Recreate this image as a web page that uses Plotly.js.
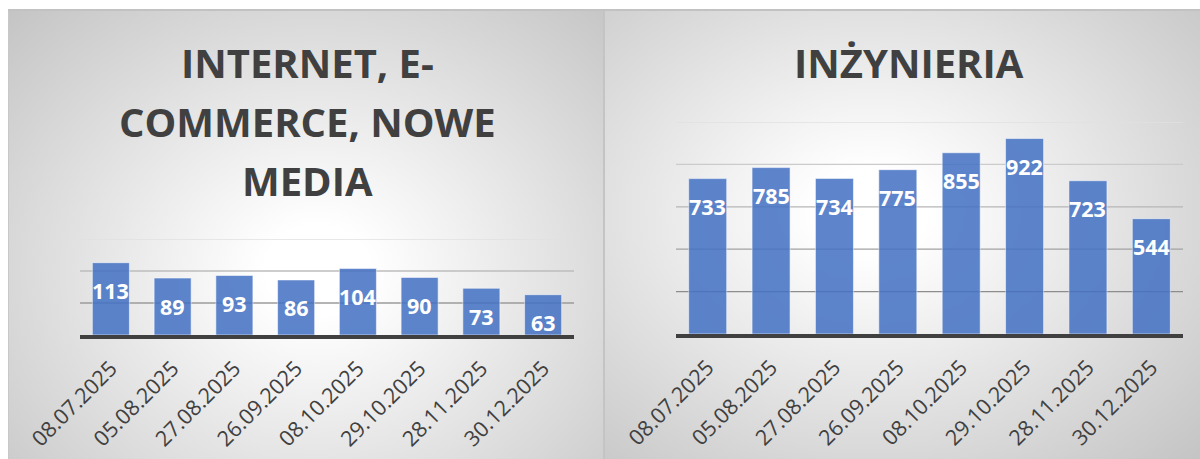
<!DOCTYPE html>
<html>
<head>
<meta charset="utf-8">
<script src="https://cdn.plot.ly/plotly-3.0.1.min.js"></script>
<style>
  html, body { margin: 0; padding: 0; background: #ffffff; }
  body { width: 1200px; height: 459px; position: relative; overflow: hidden; }
  .panel { position: absolute; top: 9px; height: 450px; }
  #left { left: 8px; width: 595px;
    background: radial-gradient(ellipse farthest-corner at 52% 58%, #ffffff 0%, #ffffff 12%, #c4c4c4 100%);
    box-shadow: inset 0 2px 0 #c2c2c2, inset 1px 0 0 #c8c8c8; }
  #right { left: 603px; width: 597px;
    background: radial-gradient(ellipse farthest-corner at 45% 45%, #ffffff 0%, #ffffff 12%, #c4c4c4 100%);
    box-shadow: inset 0 2px 0 #c2c2c2, inset 2px 0 0 #c4c4c4; }
  .chart { position: absolute; left: 0; top: 0; width: 100%; height: 100%; }
</style>
</head>
<body>
<div id="left" class="panel"><div id="chartL" class="chart"></div></div>
<div id="right" class="panel"><div id="chartR" class="chart"></div></div>
<script>
// ---- data ----
const dates = ["08.07.2025","05.08.2025","27.08.2025","26.09.2025","08.10.2025","29.10.2025","28.11.2025","30.12.2025"];
const internetValues = [113, 89, 93, 86, 104, 90, 73, 63];
const inzynieriaValues = [733, 785, 734, 775, 855, 922, 723, 544];
const internetTitle = ["INTERNET, E-", "COMMERCE, NOWE", "MEDIA"];
const inzynieriaTitle = ["INŻYNIERIA"];
const internetTicks = [0, 50, 100, 150];
const inzynieriaTicks = [0, 200, 400, 600, 800, 1000];

const FONT = "'Open Sans', 'DejaVu Sans', sans-serif";

function build(div, opts) {
  const {cats, vals, ticks, titleLines, w, h, m, titleX, titleCenters} = opts;
  const ymax = ticks[ticks.length - 1];
  const plotH = h - m.t - m.b;
  // helper: container pixel y -> paper y
  const py = (ypx) => (h - m.b - ypx) / plotH;

  const trace = {
    type: 'bar', x: cats, y: vals,
    marker: { color: '#4472C4', opacity: 0.86, line: { color: 'rgba(255,255,255,0.55)', width: 1 } },
    hoverinfo: 'x+y'
  };

  const shapes = ticks.filter(t => t > 0).map(t => {
    const g = Math.round(120 + 104 * (t / ymax));
    return { type: 'line', xref: 'paper', x0: 0, x1: 1, yref: 'y', y0: t, y1: t,
      line: { color: `rgb(${g},${g},${g})`, width: 1.3 }, layer: 'below' };
  });

  const annotations = vals.map((v, i) => ({
    x: cats[i], y: v, xref: 'x', yref: 'y', text: String(v), showarrow: false,
    yanchor: 'middle', yshift: -28,
    font: { family: FONT, size: 21.5, color: '#ffffff', weight: 'bold' }
  }));

  titleLines.forEach((line, i) => {
    annotations.push({
      xref: 'paper', yref: 'paper', x: titleX, y: py(titleCenters[i]),
      xanchor: 'center', yanchor: 'middle', showarrow: false, text: line,
      font: { family: FONT, size: 40, color: '#404040', weight: 'bold' }
    });
  });

  const layout = {
    width: w, height: h,
    margin: m,
    paper_bgcolor: 'rgba(0,0,0,0)', plot_bgcolor: 'rgba(0,0,0,0)',
    showlegend: false,
    bargap: 0.4,
    xaxis: {
      type: 'category', range: [-0.5, cats.length - 0.5],
      showgrid: false, zeroline: false,
      showline: true, linecolor: '#404040', linewidth: 3.5,
      ticks: '', tickangle: -45, ticklabelstandoff: 9,
      tickfont: { family: FONT, size: 21.5, color: '#404040' },
      fixedrange: true
    },
    yaxis: {
      range: [0, ymax], tickvals: ticks, showticklabels: false,
      showgrid: false, zeroline: false, showline: false, fixedrange: true
    },
    shapes: shapes,
    annotations: annotations
  };
  Plotly.newPlot(div, [trace], layout, { displayModeBar: false, staticPlot: true });
}

// Left: plot area x 80..574, y 239..335 (page); panel origin (8,9)
build('chartL', {
  cats: dates, vals: internetValues, ticks: internetTicks, titleLines: internetTitle,
  w: 595, h: 450, m: { l: 72, r: 29, t: 230, b: 124, pad: 0 },
  titleX: (307 - 80) / 494,
  titleCenters: [62 - 9, 121 - 9, 180 - 9]
});

// Right: plot area x 676..1183, y 122..334 (page); panel origin (603,9)
build('chartR', {
  cats: dates, vals: inzynieriaValues, ticks: inzynieriaTicks, titleLines: inzynieriaTitle,
  w: 597, h: 450, m: { l: 73, r: 17, t: 113, b: 125, pad: 0 },
  titleX: (909 - 676) / 507,
  titleCenters: [62 - 9]
});
</script>
</body>
</html>
